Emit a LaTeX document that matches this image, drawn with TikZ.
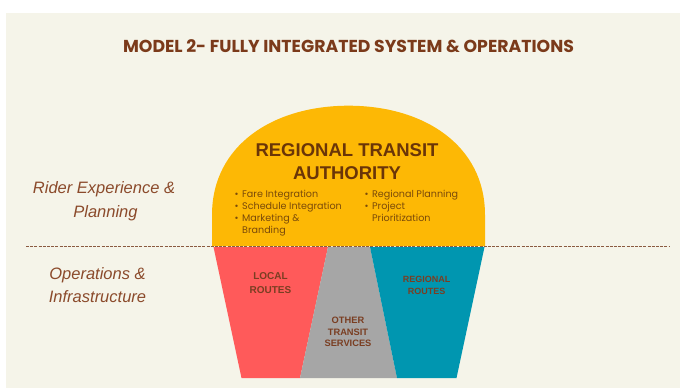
\documentclass[tikz,border=0pt]{standalone}
\usepackage{fontspec}
\setmainfont{Liberation Sans}
\newfontfamily\popfont{Poppins}
\newfontfamily\popbold{Poppins}[UprightFont=* Bold]
\definecolor{cream}{HTML}{F5F4E9}
\definecolor{domeyellow}{HTML}{FDB805}
\definecolor{localred}{HTML}{FF5A5A}
\definecolor{othergrey}{HTML}{A6A6A6}
\definecolor{regteal}{HTML}{0096B0}
\definecolor{titlebrown}{HTML}{7B3A1A}
\definecolor{sidebrown}{HTML}{8B4A2B}
\definecolor{domebrown}{HTML}{6A3508}
\definecolor{bulletbrown}{HTML}{7A4A0A}
\definecolor{labelbrown}{HTML}{7A3E22}
\definecolor{dashbrown}{HTML}{8A5A40}
\newcommand{\bul}{\textbullet\hspace{3.5pt}}
\newcommand{\nobul}{\phantom{\textbullet}\hspace{3.5pt}}
\begin{document}
\begin{tikzpicture}[x=1pt,y=-1pt,
  sidetext/.style={anchor=base,inner sep=0pt,text=sidebrown,font=\fontsize{16.5}{20}\selectfont\itshape},
  dometext/.style={anchor=base,inner sep=0pt,text=domebrown,font=\fontsize{18.5}{22}\selectfont\bfseries},
  bullettext/.style={anchor=base west,inner sep=0pt,text=bulletbrown,font=\popfont\fontsize{9.6}{12}\selectfont},
  labeltext/.style={anchor=base,inner sep=0pt,text=labelbrown,font=\fontsize{10}{13}\selectfont\bfseries}]
\useasboundingbox (0,0) rectangle (680,388);
\fill[white] (0,0) rectangle (680,388);
\fill[cream] (6,13) rectangle (680,388);
% title
\node[anchor=base,inner sep=0pt,text=titlebrown,font=\popbold\fontsize{17.3}{20}\selectfont] (title) at (348.5,52.5) {MODEL 2- FULLY INTEGRATED SYSTEM \& OPERATIONS};
% dome
\fill[domeyellow] (212,246) -- (212,215) .. controls (212,145) and (273.5,105.7) .. (348.5,105.7)
  .. controls (423.5,105.7) and (485,145) .. (485,215) -- (485,246) -- cycle;
% trapezoids
\fill[localred] (213.5,247) -- (328,247) -- (300,378) -- (241.5,378) -- cycle;
\fill[othergrey] (328,247) -- (370,247) -- (397,378) -- (300,378) -- cycle;
\fill[regteal] (370,247) -- (484.5,247) -- (456.5,378) -- (397,378) -- cycle;
% dashed divider
\coordinate (dashL) at (26,246.5);
\coordinate (dashR) at (670,246.5);
\draw[dashbrown,line width=1.2pt,dash pattern=on 3pt off 1.2pt] (dashL) -- (dashR);
% side texts
\node[sidetext] (rider1) at (104,193) {Rider Experience \&};
\node[sidetext] (rider2) at (105.5,217) {Planning};
\node[sidetext] (ops1) at (97.5,279) {Operations \&};
\node[sidetext] (ops2) at (97.5,302) {Infrastructure};
% dome title
\node[dometext] (rta1) at (347,156.7) {REGIONAL TRANSIT};
\node[dometext] (rta2) at (347,179.3) {AUTHORITY};
% bullets
\node[bullettext] (b1) at (234.5,197.5) {\bul Fare Integration};
\node[bullettext] (b2) at (234.5,209.5) {\bul Schedule Integration};
\node[bullettext] (b3) at (234.5,221.5) {\bul Marketing \&};
\node[bullettext] (b3b) at (234.5,233.5) {\nobul Branding};
\node[bullettext] (b4) at (364.5,197.5) {\bul Regional Planning};
\node[bullettext] (b5) at (364.5,209.5) {\bul Project};
\node[bullettext] (b5b) at (364.5,221.5) {\nobul Prioritization};
% bottom labels
\node[labeltext] (loc1) at (270.5,279.3) {LOCAL};
\node[labeltext] (loc2) at (270.5,293.3) {ROUTES};
\node[labeltext,font=\fontsize{9.3}{12}\selectfont\bfseries] (oth1) at (348,323.3) {OTHER};
\node[labeltext,font=\fontsize{9.3}{12}\selectfont\bfseries] (oth2) at (348,335) {TRANSIT};
\node[labeltext,font=\fontsize{9.3}{12}\selectfont\bfseries] (oth3) at (348,346.7) {SERVICES};
\node[labeltext,font=\fontsize{9}{12}\selectfont\bfseries] (reg1) at (426.7,282.3) {REGIONAL};
\node[labeltext,font=\fontsize{9}{12}\selectfont\bfseries] (reg2) at (426.7,294) {ROUTES};
\end{tikzpicture}
\end{document}
